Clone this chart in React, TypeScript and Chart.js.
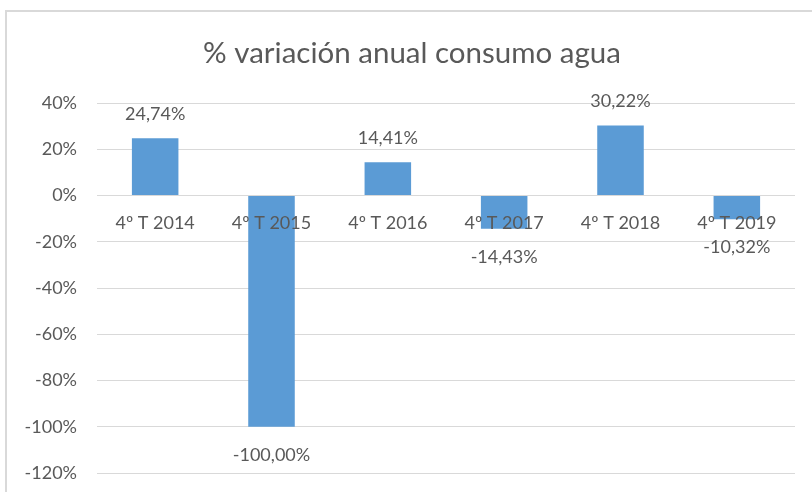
import React, { useEffect, useRef } from "react";
import { Chart, registerables } from "chart.js";

Chart.register(...registerables);

const categories = ["4º T 2014", "4º T 2015", "4º T 2016", "4º T 2017", "4º T 2018", "4º T 2019"];
const variation = [24.74, -100.0, 14.41, -14.43, 30.22, -10.32];
const yMin = -120;
const yMax = 40;
const yStep = 20;
const titleText = "% variación anual consumo agua";

const FONT = "Lato, 'Liberation Sans', sans-serif";
const TEXT = "#595959";
const GRID = "#D9D9D9";
const BAR = "#5B9BD5";

const fmt = (v: number) => v.toFixed(2).replace(".", ",") + "%";

const dataLabels = {
  id: "dataLabels",
  afterDatasetsDraw(chart: any) {
    const ctx = chart.ctx;
    const meta = chart.getDatasetMeta(0);
    ctx.save();
    ctx.font = `18px ${FONT}`;
    ctx.fillStyle = TEXT;
    ctx.textAlign = "center";
    ctx.textBaseline = "middle";
    meta.data.forEach((el: any, i: number) => {
      const v = variation[i];
      const y = v >= 0 ? el.y - 24 : el.y + 28;
      ctx.fillText(fmt(v), el.x, y);
    });
    ctx.restore();
  },
};

// widen the y-axis label clip area so labels may extend into the left padding
const unclipY = {
  id: "unclipY",
  afterLayout(chart: any) {
    const y = chart.scales.y;
    if (y) y.left = 0;
  },
};

export default function App() {
  const ref = useRef<HTMLCanvasElement>(null);
  useEffect(() => {
    if (!ref.current) return;
    const chart = new Chart(ref.current, {
      type: "bar",
      data: {
        labels: categories,
        datasets: [
          {
            data: variation,
            backgroundColor: BAR,
            borderWidth: 0,
            barPercentage: 0.4,
            categoryPercentage: 1,
          },
        ],
      },
      options: {
        animation: false,
        responsive: false,
        maintainAspectRatio: false,
        layout: { padding: { top: 10, right: 17, bottom: 19, left: 29 } },
        plugins: {
          legend: { display: false },
          tooltip: { enabled: false },
          title: {
            display: true,
            text: titleText,
            color: TEXT,
            font: { family: FONT, size: 29.5, weight: "normal" },
            padding: { top: 26, bottom: 31.6 },
          },
        },
        scales: {
          x: {
            position: { y: 0 } as any,
            grid: { display: false, drawTicks: false },
            border: { display: false },
            ticks: {
              z: 1,
              color: TEXT,
              font: { family: FONT, size: 18 },
              padding: 17,
              maxRotation: 0,
              autoSkip: false,
            },
          },
          y: {
            min: yMin,
            max: yMax,
            grid: { color: GRID, lineWidth: 1, drawTicks: false },
            border: { display: false },
            ticks: {
              stepSize: yStep,
              color: TEXT,
              font: { family: FONT, size: 18 },
              padding: 20,
              callback: (v: any) => v + "%",
            },
            afterFit: (s: any) => {
              s.width = 68;
              s.paddingTop = 0;
              s.paddingBottom = 0;
            },
          },
        },
      },
      plugins: [dataLabels, unclipY],
    });
    return () => chart.destroy();
  }, []);
  return (
    <div style={{ position: "fixed", left: 0, top: 0, width: 812, height: 492, background: "#fff" }}>
      <div
        style={{
          position: "absolute",
          left: 5,
          top: 10,
          width: 820,
          height: 500,
          borderLeft: `2px solid ${GRID}`,
          borderTop: `2px solid ${GRID}`,
        }}
      />
      <canvas ref={ref} width={812} height={492} style={{ position: "absolute", left: 0, top: 0 }} />
    </div>
  );
}
